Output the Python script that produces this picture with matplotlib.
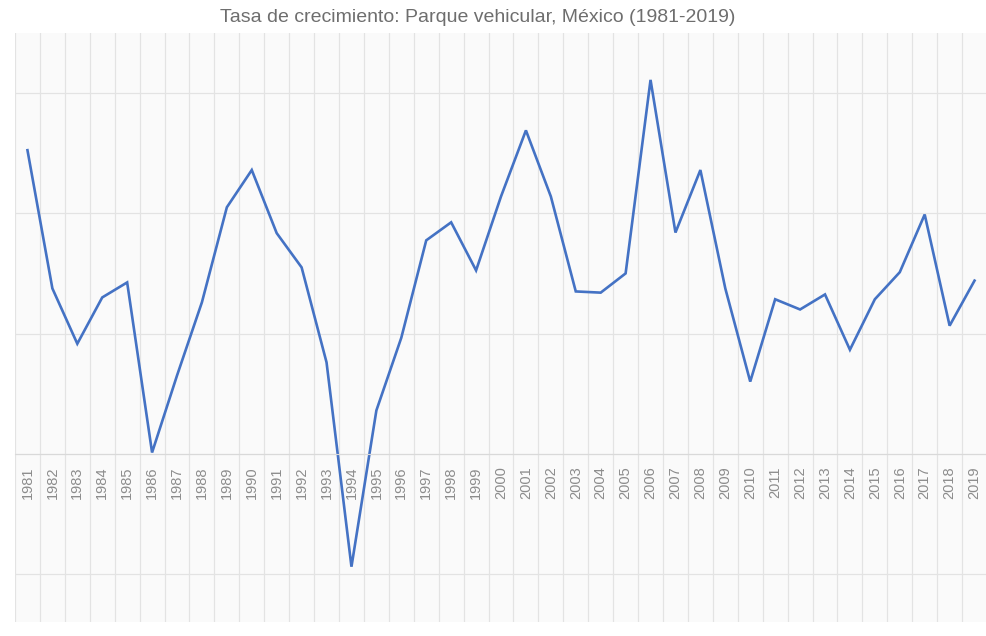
import matplotlib
matplotlib.use("Agg")
import matplotlib.pyplot as plt
from matplotlib.ticker import MultipleLocator

# ---------------------------------------------------------------------------
# Data (growth rate; y axis has no labels)
# ---------------------------------------------------------------------------
years = [str(y) for y in range(1981, 2020)]
growth = [
    5.05, 2.75, 1.83, 2.60, 2.85, 0.02, 1.30, 2.52, 4.10, 4.72,
    3.67, 3.10, 1.52, -1.88, 0.72, 1.93, 3.55, 3.85, 3.05, 4.28,
    5.38, 4.28, 2.70, 2.68, 3.00, 6.22, 3.68, 4.72, 2.75, 1.20,
    2.57, 2.40, 2.65, 1.73, 2.57, 3.02, 3.98, 2.13, 2.88,
]

TITLE = "Tasa de crecimiento: Parque vehicular, México (1981-2019)"
LINE_C = "#4472C4"
GRID_C = "#E3E3E3"
TEXT_C = "#8C8C8C"

fig = plt.figure(figsize=(9.87, 6.36), dpi=100)
ax = fig.add_axes([15 / 987, 14 / 636, 972 / 987, 589 / 636])
ax.set_facecolor("#FAFAFA")

ax.plot(years, growth, color=LINE_C, lw=1.9, solid_joinstyle="miter")

ax.set_xlim(-0.5, len(years) - 0.5)
ax.set_ylim(-2.8, 7.0)

# horizontal gridlines, vertical lines between categories
ax.yaxis.set_major_locator(MultipleLocator(2))
ax.grid(axis="y", color=GRID_C, lw=0.9)
for i in range(len(years) + 1):
    ax.axvline(i - 0.5, color=GRID_C, lw=0.9, zorder=0)
ax.set_axisbelow(True)

# category axis sits at zero, labels rotated
for s in ("top", "right", "left"):
    ax.spines[s].set_visible(False)
ax.spines["bottom"].set_position(("data", 0))
ax.spines["bottom"].set_color("#D9D9D9")
ax.tick_params(axis="x", length=0, pad=9, labelrotation=90,
               labelsize=10.5, labelcolor=TEXT_C)
for lab in ax.get_xticklabels():
    lab.set_fontfamily("Liberation Sans")
ax.tick_params(axis="y", left=False, labelleft=False)

fig.text(0.484, 1 - 18 / 636, TITLE, ha="center", va="center",
         fontsize=14, color="#6E6E6E", family="Liberation Sans")

fig.savefig("out.png", dpi=100)
